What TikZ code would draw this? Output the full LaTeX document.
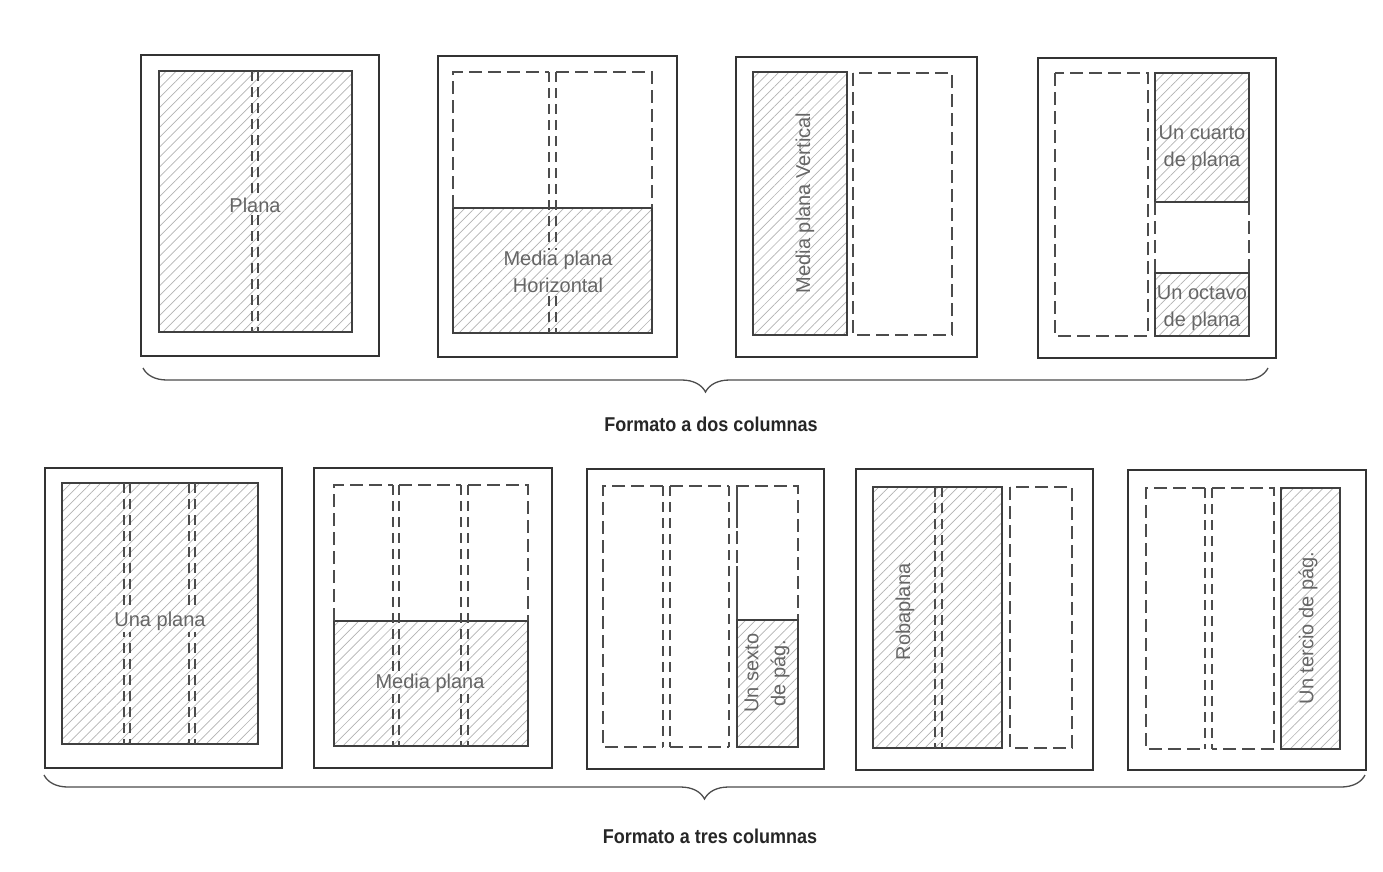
\documentclass[tikz,border=0pt]{standalone}
\usepackage{fontspec}
\newfontfamily\labfont{Liberation Sans}
\usetikzlibrary{patterns.meta,decorations.pathreplacing}
\begin{document}
\begin{tikzpicture}[x=1pt,y=-1pt,
  pageframe/.style={draw=black!80, line width=1.8pt},
  hatchfill/.style={pattern={Lines[angle=45,distance=7pt,line width=0.7pt]}, pattern color=black!30},
  hatchbox/.style={draw=black!75, line width=1.3pt, hatchfill},
  dashcol/.style={draw=black!70, line width=1.3pt, dash pattern=on 13pt off 6pt},
  gutter/.style={draw=black!70, line width=1.2pt, dash pattern=on 10pt off 6pt},
  lbl/.style={text=black!60, font=\labfont\fontsize{20}{27}\selectfont, align=center, inner sep=0pt},
  overgutter/.style={preaction={fill=white}, hatchfill, inner sep=1.5pt},
  capt/.style={text=black!85, font=\labfont\bfseries\fontsize{20}{24}\selectfont, xscale=0.9},
  bracestyle/.style={draw=black!70, line width=1.3pt, decorate, decoration={brace, amplitude=24pt}}]
\useasboundingbox (0,0) rectangle (1383,871);

% ---------- Top row: Formato a dos columnas ----------
% Page 1
\draw[pageframe] (141,55) rectangle (379,356);
\draw[hatchbox] (159,71) rectangle (352,332);
\draw[gutter] (252,71) -- (252,332) (258,71) -- (258,332);
\node[lbl, overgutter] (plana) at (255,205) {Plana};

% Page 2
\draw[pageframe] (438,56) rectangle (677,357);
\draw[hatchbox] (453,208) rectangle (652,333);
\draw[dashcol] (453,208) -- (453,72) -- (549,72) (556,72) -- (652,72) -- (652,208);
\draw[gutter] (549,72) -- (549,333) (556,72) -- (556,333);
\node[lbl, overgutter] (mediah) at (558,272) {Media plana\\Horizontal};

% Page 3
\draw[pageframe] (736,57) rectangle (977,357);
\draw[hatchbox] (753,72) rectangle (847,335);
\draw[dashcol] (853,73) rectangle (952,335);
\node[lbl, rotate=90] (mediav) at (805,203) {Media plana Vertical};

% Page 4
\draw[pageframe] (1038,58) rectangle (1276,358);
\draw[dashcol] (1055,73) rectangle (1148,336);
\draw[hatchbox] (1155,73) rectangle (1249,202);
\draw[dashcol] (1155,202) -- (1155,273) (1249,202) -- (1249,273);
\draw[hatchbox] (1155,273) rectangle (1249,336);
\node[lbl] (cuarto) at (1202,148) {Un cuarto\\de plana};
\node[lbl] (octavo) at (1202,308) {Un octavo\\de plana};

% Brace and caption
\coordinate (b1r) at (1268,368);
\coordinate (b1l) at (143,368);
\draw[bracestyle] (b1r) -- (b1l);
\node[capt] (dos) at (711,424) {Formato a dos columnas};

% ---------- Bottom row: Formato a tres columnas ----------
% Page 5
\draw[pageframe] (45,468) rectangle (282,768);
\draw[hatchbox] (62,483) rectangle (258,744);
\draw[gutter] (124,483) -- (124,744) (130,483) -- (130,744)
              (189,483) -- (189,744) (195,483) -- (195,744);
\node[lbl, overgutter] (una) at (160,621) {Una plana};

% Page 6
\draw[pageframe] (314,468) rectangle (552,768);
\draw[hatchbox] (334,621) rectangle (528,746);
\draw[dashcol] (334,621) -- (334,485) -- (393,485) (399,485) -- (461,485) (468,485) -- (528,485) -- (528,621);
\draw[gutter] (393,485) -- (393,746) (399,485) -- (399,746)
              (461,485) -- (461,746) (468,485) -- (468,746);
\node[lbl, overgutter] (media3) at (430,683) {Media plana};

% Page 7
\draw[pageframe] (587,469) rectangle (824,769);
\draw[dashcol] (663,486) -- (603,486) -- (603,747) -- (663,747)
               (670,486) -- (729,486) (670,747) -- (729,747)
               (737,620) -- (737,486) -- (798,486) -- (798,620);
\draw[gutter] (663,486) -- (663,747) (670,486) -- (670,747)
              (729,486) -- (729,747) (737,486) -- (737,620);
\draw[hatchbox] (737,620) rectangle (798,747);
\node[lbl, rotate=90] (sexto) at (767,673) {Un sexto\\de pág.};

% Page 8
\draw[pageframe] (856,469) rectangle (1093,770);
\draw[hatchbox] (873,487) rectangle (1002,748);
\draw[gutter] (935,487) -- (935,748) (942,487) -- (942,748);
\draw[dashcol] (1010,487) rectangle (1072,748);
\node[lbl, rotate=90] (roba) at (905,612) {Robaplana};

% Page 9
\draw[pageframe] (1128,470) rectangle (1366,770);
\draw[dashcol] (1205,488) -- (1146,488) -- (1146,749) -- (1205,749)
               (1212,488) -- (1274,488) -- (1274,749) -- (1212,749);
\draw[gutter] (1205,488) -- (1205,749) (1212,488) -- (1212,749);
\draw[hatchbox] (1281,488) rectangle (1340,749);
\node[lbl, rotate=90] (tercio) at (1308,628) {Un tercio de pág.};

% Brace and caption
\coordinate (b2r) at (1365,775);
\coordinate (b2l) at (44,775);
\draw[bracestyle] (b2r) -- (b2l);
\node[capt] (tres) at (710,836) {Formato a tres columnas};
\end{tikzpicture}
\end{document}
